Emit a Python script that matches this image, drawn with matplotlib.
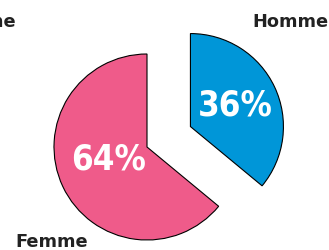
import matplotlib
matplotlib.use("Agg")
import matplotlib.pyplot as plt
from matplotlib import font_manager

labels = ["Homme", "Femme"]
values = [36, 64]
colors = ["#0096d8", "#ef5b8a"]

names = {f.name for f in font_manager.fontManager.ttflist}
narrow = "Liberation Sans Narrow" in names
pct_font = "Liberation Sans Narrow" if narrow else "DejaVu Sans"
pct_size = 28 if narrow else 25

fig = plt.figure(figsize=(3.29, 2.5), dpi=100)
ax = fig.add_axes([0, 0, 1, 1])

wedges, _ = ax.pie(values, colors=colors, startangle=90, counterclock=False,
                   radius=93, center=(147, 103), explode=[48, 0],
                   wedgeprops=dict(edgecolor="black", linewidth=0.8))
ax.set_xlim(0, 329)
ax.set_ylim(0, 250)
ax.axis("off")

# percentages
ax.text(235, 144, f"{values[0]}%", color="white", fontsize=pct_size, fontweight="bold",
        family=pct_font, fontstretch="condensed", ha="center", va="center")
ax.text(109, 90, f"{values[1]}%", color="white", fontsize=pct_size, fontweight="bold",
        family=pct_font, fontstretch="condensed", ha="center", va="center")

# labels
ax.text(290, 228, labels[0], fontsize=12.8, fontweight="bold", color="#222222",
        ha="center", va="center")
ax.text(52, 8, labels[1], fontsize=12.8, fontweight="bold", color="#222222",
        ha="center", va="center")
# piece of a neighbouring label cut by the frame
ax.text(16, 228, labels[1], fontsize=12.8, fontweight="bold", color="#222222",
        ha="right", va="center")

fig.savefig("out.png", dpi=100)
